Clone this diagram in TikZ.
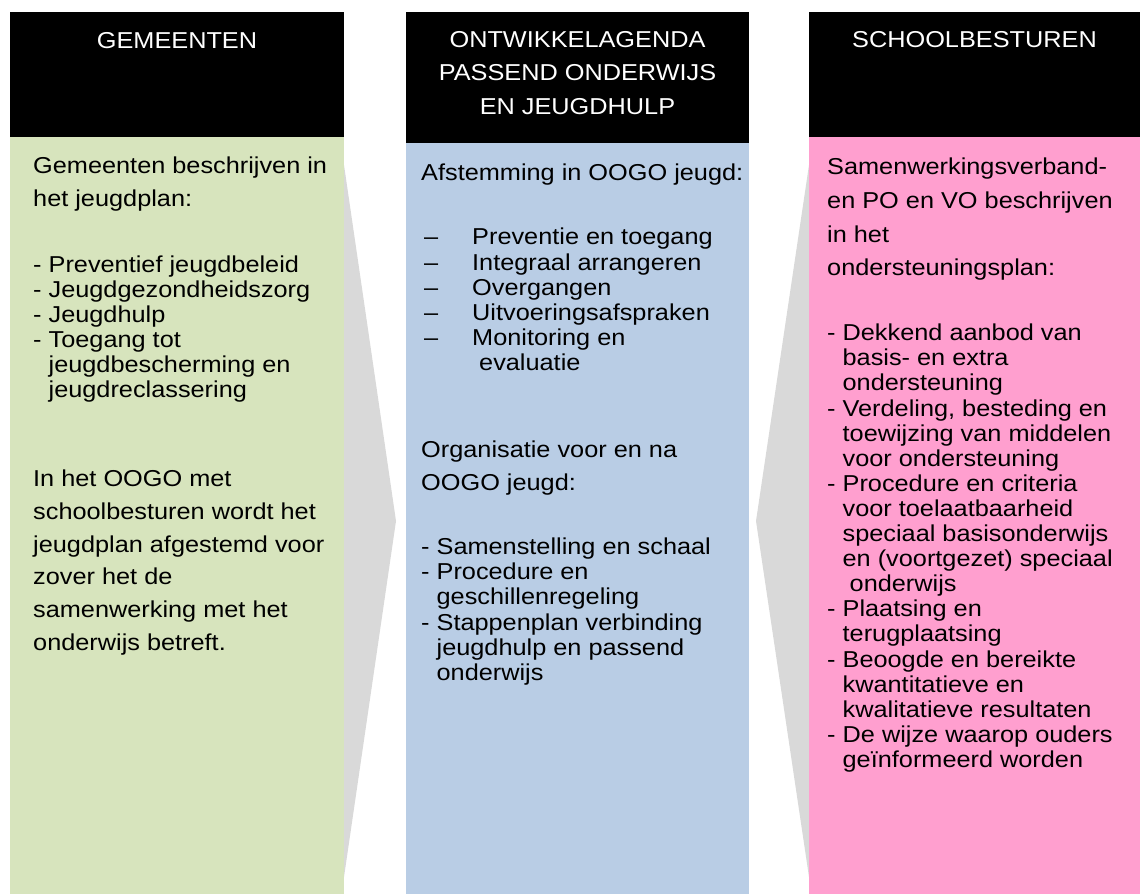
\documentclass[tikz,border=0pt]{standalone}
\usepackage{fontspec}
\setmainfont{Liberation Sans}[FakeStretch=1.1]
\usepackage{tikz}
\definecolor{gemgreen}{HTML}{D7E4BD}
\definecolor{agendablue}{HTML}{B9CDE5}
\definecolor{schoolpink}{HTML}{FF9FCF}
\definecolor{arrowgray}{HTML}{D9D9D9}
\newcommand{\hangin}{\phantom{- }}
\newcommand{\dashitem}[1]{\hspace*{3pt}\makebox[48pt][l]{–}#1}
\tikzset{
  header/.style={text=white, align=center, inner sep=0pt, font=\fontsize{23}{33.5}\selectfont},
  bodytext/.style={anchor=north west, align=left, inner sep=0pt, font=\fontsize{23}{25.1}\selectfont}
}

\begin{document}
\begin{tikzpicture}[x=1pt, y=-1pt]
	\useasboundingbox (0,0) rectangle (1140,894);

	% grey arrows behind the columns
	\fill[arrowgray] (344,165) -- (396,521) -- (344,877) -- cycle;
	\fill[arrowgray] (809,165) -- (756,521) -- (809,877) -- cycle;

	% columns
	\fill[black] (10,12) rectangle (344,137);
	\fill[gemgreen] (10,137) rectangle (344,894);
	\fill[black] (406,12) rectangle (749,143);
	\fill[agendablue] (406,143) rectangle (749,894);
	\fill[black] (809,12) rectangle (1140,137);
	\fill[schoolpink] (809,137) rectangle (1140,894);

	\node[header] (hdrgem) at (177,41) {GEMEENTEN};
	\node[header] (hdragenda) at (577.5,73) {ONTWIKKELAGENDA\\PASSEND ONDERWIJS\\EN JEUGDHULP};
	\node[header] (hdrschool) at (974.5,40) {SCHOOLBESTUREN};

	\node[bodytext] (txtgem) at (33,157) {Gemeenten beschrijven in\\[8pt]
		het jeugdplan:\\[40pt]
		- Preventief jeugdbeleid\\
		- Jeugdgezondheidszorg\\
		- Jeugdhulp\\
		- Toegang tot\\
		\hangin jeugdbescherming en\\
		\hangin jeugdreclassering\\[64pt]
		In het OOGO met\\[7.6pt]
		schoolbesturen wordt het\\[7.6pt]
		jeugdplan afgestemd voor\\[7.6pt]
		zover het de\\[7.6pt]
		samenwerking met het\\[7.6pt]
		onderwijs betreft.};

	\node[bodytext] (txtagenda) at (421,164) {Afstemming in OOGO jeugd:\\[39pt]
		\dashitem{Preventie en toegang}\\
		\dashitem{Integraal arrangeren}\\
		\dashitem{Overgangen}\\
		\dashitem{Uitvoeringsafspraken}\\
		\dashitem{Monitoring en}\\
		\hspace*{58pt}evaluatie\\[62pt]
		Organisatie voor en na\\[8pt]
		OOGO jeugd:\\[39pt]
		- Samenstelling en schaal\\
		- Procedure en\\
		\hangin geschillenregeling\\
		- Stappenplan verbinding\\
		\hangin jeugdhulp en passend\\
		\hangin onderwijs};

	\node[bodytext] (txtschool) at (827,158) {Samenwerkingsverband-\\[8.5pt]
		en PO en VO beschrijven\\[8.5pt]
		in het\\[8.5pt]
		ondersteuningsplan:\\[40pt]
		- Dekkend aanbod van\\
		\hangin basis- en extra\\
		\hangin ondersteuning\\
		- Verdeling, besteding en\\
		\hangin toewijzing van middelen\\
		\hangin voor ondersteuning\\
		- Procedure en criteria\\
		\hangin voor toelaatbaarheid\\
		\hangin speciaal basisonderwijs\\
		\hangin en (voortgezet) speciaal\\
		\hangin\ onderwijs\\
		- Plaatsing en\\
		\hangin terugplaatsing\\
		- Beoogde en bereikte\\
		\hangin kwantitatieve en\\
		\hangin kwalitatieve resultaten\\
		- De wijze waarop ouders\\
		\hangin geïnformeerd worden};
\end{tikzpicture}
\end{document}
